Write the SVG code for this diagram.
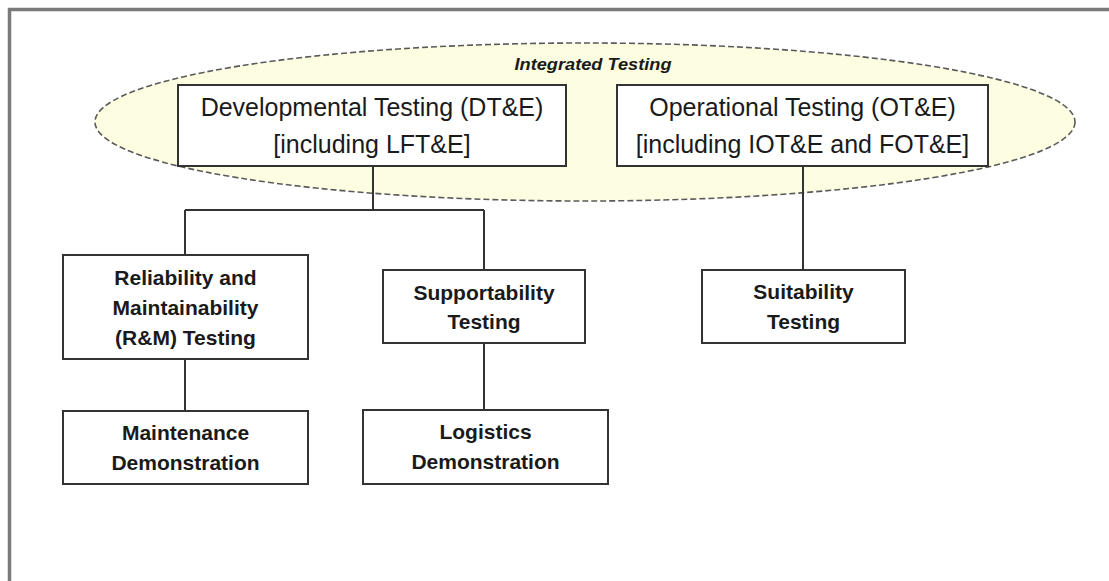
<svg xmlns="http://www.w3.org/2000/svg" width="1109" height="581" viewBox="0 0 1109 581">
<style>
.box{fill:#ffffff;stroke:#333333;stroke-width:2}
.top{font-family:"Liberation Sans",Arial,sans-serif;font-size:25px;fill:#1a1a1a;text-anchor:middle}
.sub{font-family:"Liberation Sans",Arial,sans-serif;font-size:21px;font-weight:bold;fill:#1a1a1a;text-anchor:middle}
.conn{fill:none;stroke:#333333;stroke-width:2}
</style>
<rect width="1109" height="581" fill="#ffffff"/>
<rect id="frame" x="9.5" y="9.5" width="1120" height="600" fill="none" stroke="#7a7a7a" stroke-width="3.5"/>
<g id="integrated">
<ellipse cx="585" cy="122" rx="490" ry="79" fill="#fdfde1" stroke="#5a5a5a" stroke-width="1.6" stroke-dasharray="6 3"/>
<text x="593" y="70" font-family="'Liberation Sans',Arial,sans-serif" font-size="17" font-style="italic" font-weight="bold" fill="#1a1a1a" text-anchor="middle" textLength="157" lengthAdjust="spacingAndGlyphs">Integrated Testing</text>
</g>
<g id="connectors">
<path class="conn" d="M373,166 V210 M185,210 H484 M185,210 V255 M484,210 V270 M185,359 V411 M484,343 V410 M803,166 V270"/>
</g>
<g id="dt">
<rect class="box" x="178" y="85" width="388" height="81"/>
<text class="top" x="372" y="116">Developmental Testing (DT&amp;E)</text>
<text class="top" x="372" y="153">[including LFT&amp;E]</text>
</g>
<g id="ot">
<rect class="box" x="617" y="85" width="371" height="81"/>
<text class="top" x="802.5" y="116">Operational Testing (OT&amp;E)</text>
<text class="top" x="802.5" y="153">[including IOT&amp;E and FOT&amp;E]</text>
</g>
<g id="rm">
<rect class="box" x="63" y="255" width="245" height="104"/>
<text class="sub" x="185.5" y="285">Reliability and</text>
<text class="sub" x="185.5" y="315">Maintainability</text>
<text class="sub" x="185.5" y="345">(R&amp;M) Testing</text>
</g>
<g id="supportability">
<rect class="box" x="383" y="270" width="202" height="73"/>
<text class="sub" x="484" y="300">Supportability</text>
<text class="sub" x="484" y="329">Testing</text>
</g>
<g id="suitability">
<rect class="box" x="702" y="270" width="203" height="73"/>
<text class="sub" x="803.5" y="299">Suitability</text>
<text class="sub" x="803.5" y="329">Testing</text>
</g>
<g id="maintenance">
<rect class="box" x="63" y="411" width="245" height="73"/>
<text class="sub" x="185.5" y="440">Maintenance</text>
<text class="sub" x="185.5" y="470">Demonstration</text>
</g>
<g id="logistics">
<rect class="box" x="363" y="410" width="245" height="74"/>
<text class="sub" x="485.5" y="439">Logistics</text>
<text class="sub" x="485.5" y="469">Demonstration</text>
</g>
</svg>
